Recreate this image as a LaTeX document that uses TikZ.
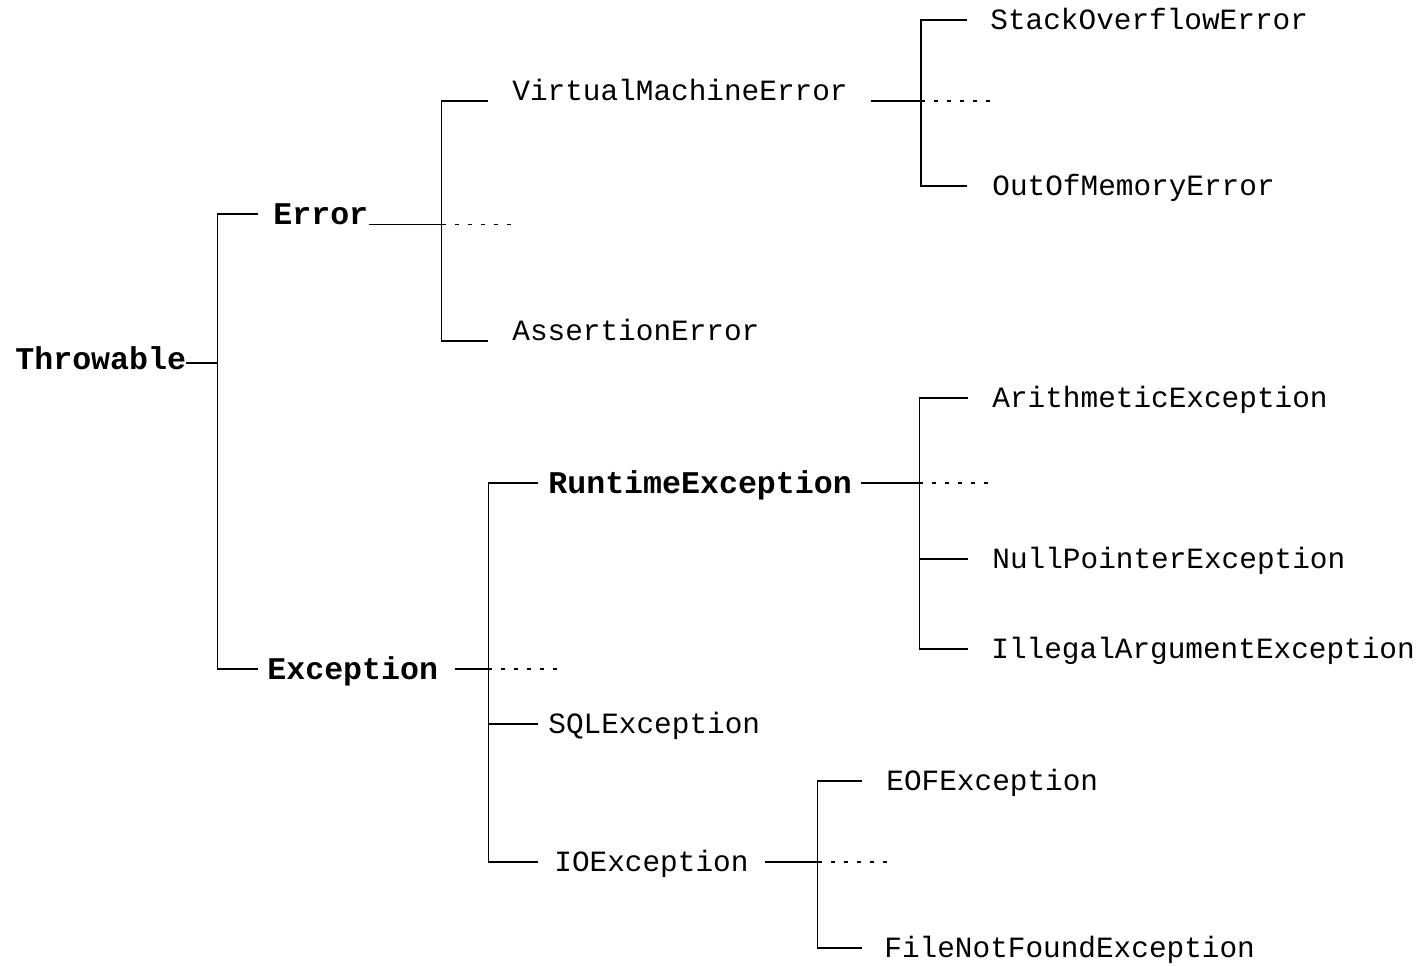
\documentclass[tikz,border=0pt]{standalone}
\usepackage{fontspec}
\setmonofont{Liberation Mono}
\usepackage{tikz}
\usetikzlibrary{positioning}

\begin{document}
\begin{tikzpicture}[
  x=0.5pt, y=-0.5pt,
  cls/.style={font=\fontsize{14.7}{16}\selectfont\ttfamily, inner sep=0pt,
              text height=9.7pt, text depth=0pt, anchor=west},
  basecls/.style={cls, font=\fontsize{15.8}{18}\selectfont\ttfamily\bfseries,
                  text height=10.5pt},
  edge/.style={draw=black, line width=0.6pt},
  stub/.style={draw=black, line width=0.6pt, dash pattern=on 2pt off 4.5pt},
]
  \useasboundingbox (0,0) rectangle (1419,967);

  % Nodes
  \node[basecls] (throwable) at (15,359) {Throwable};
  \node[basecls] (error) at (273,214) {Error};
  \node[basecls] (exception) at (267,669) {Exception};
  \node[cls, anchor=south west] (vme) at (512,101) {VirtualMachineError};
  \node[cls, anchor=south west] (assertion) at (512,341) {AssertionError};
  \node[cls] (stackoverflow) at (990,20) {StackOverflowError};
  \node[cls] (outofmemory) at (992,186) {OutOfMemoryError};
  \node[basecls] (runtime) at (548,483) {RuntimeException};
  \node[cls] (sql) at (548,724) {SQLException};
  \node[cls] (io) at (554,862) {IOException};
  \node[cls] (arith) at (992,398) {ArithmeticException};
  \node[cls] (nullptr) at (992,559) {NullPointerException};
  \node[cls] (illegalarg) at (991,649) {IllegalArgumentException};
  \node[cls] (eof) at (886,781) {EOFException};
  \node[cls] (filenotfound) at (884,948) {FileNotFoundException};

  % Throwable
  \draw[edge] ([yshift=-2pt]throwable.east) -- ++(31,0) coordinate (jthrow);
  \draw[edge] ([xshift=-7.5pt]error.west) -| (exception.west -| jthrow)
    -- ([xshift=-4.5pt]exception.west);

  % Error
  \draw[edge] (error.south east) -- ++(73,0) coordinate (jerror);
  \draw[edge] ([xshift=-12pt]vme.south west) -| (assertion.south west -| jerror)
    -- ([xshift=-12pt]assertion.south west);
  \draw[stub] (jerror) -- ++(73,0);

  % VirtualMachineError
  \draw[edge] ([xshift=11.5pt]vme.south east) -- ++(50,0) coordinate (jvme);
  \draw[edge] ([xshift=-11.5pt]stackoverflow.west) -| (outofmemory.west -| jvme)
    -- ([xshift=-12.5pt]outofmemory.west);
  \draw[stub] (jvme) -- ++(77,0);

  % Exception
  \draw[edge] ([xshift=8.5pt]exception.east) -- ++(33,0) coordinate (jexc);
  \draw[edge] ([xshift=-5pt]runtime.west) -| (io.west -| jexc)
    -- ([xshift=-8pt]io.west);
  \draw[edge] (sql.west -| jexc) -- ([xshift=-5pt]sql.west);
  \draw[stub] (jexc) -- ++(77,0);

  % RuntimeException
  \draw[edge] ([xshift=4.5pt]runtime.east) -- ++(58,0) coordinate (jrun);
  \draw[edge] ([xshift=-12pt]arith.west) -| (illegalarg.west -| jrun)
    -- ([xshift=-11.5pt]illegalarg.west);
  \draw[edge] (nullptr.west -| jrun) -- ([xshift=-12pt]nullptr.west);
  \draw[stub] (jrun) -- ++(77,0);

  % IOException
  \draw[edge] ([xshift=8pt]io.east) -- ++(53,0) coordinate (jio);
  \draw[edge] ([xshift=-12pt]eof.west) -| (filenotfound.west -| jio)
    -- ([xshift=-11pt]filenotfound.west);
  \draw[stub] (jio) -- ++(75,0);
\end{tikzpicture}
\end{document}
